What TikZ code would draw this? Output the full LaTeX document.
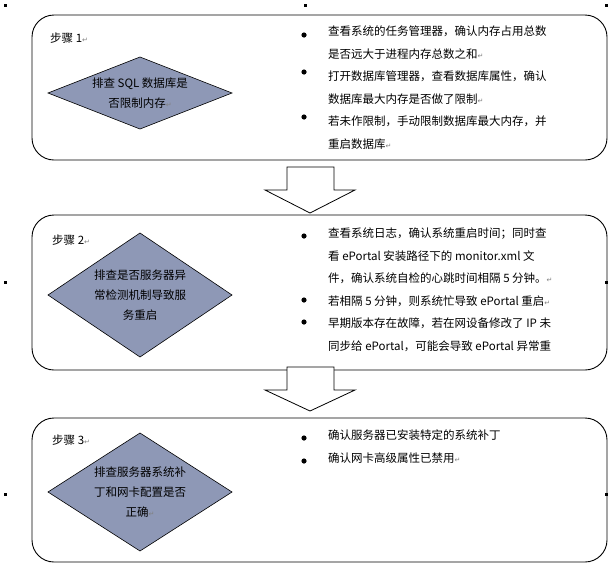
\documentclass[tikz,border=0pt]{standalone}
\usepackage{fontspec}
\setmainfont{Noto Sans CJK SC}
\newfontfamily\dv{DejaVu Sans}
\newcommand{\parmk}{{\dv\color{gray}\fontsize{7}{8}\selectfont ↵}}
\definecolor{dfill}{RGB}{142,152,182}
\begin{document}
\begin{tikzpicture}[x=1pt,y=-1pt,
  box/.style={draw,line width=0.9pt,rounded corners=22pt},
  dia/.style={draw,fill=dfill,line width=0.6pt},
  dt/.style={align=center,font=\fontsize{11.5}{20}\selectfont,inner sep=0pt},
  txt/.style={anchor=north west,align=left,font=\fontsize{11.5}{22.5}\selectfont,inner sep=0pt},
  lab/.style={anchor=west,font=\fontsize{11.5}{14}\selectfont,inner sep=0pt},
  arr/.style={draw,line width=0.8pt,fill=white},
  mk/.style={fill=black,minimum size=3pt,inner sep=0pt}]
\useasboundingbox (0,0) rectangle (612,563);
\foreach \p/\q in {5/5,305/5,606/5,5/282,606/282,5/494,606/494}{\node[mk] at (\p,\q) {};}
% boxes
\draw[box] (32,15) rectangle (607,160);
\draw[box] (32,215) rectangle (607,370);
\draw[box] (32,418) rectangle (607,562);
\node[lab] (s1) at (50,38) {步骤 1\parmk};
\node[lab] (s2) at (52,240) {步骤 2\parmk};
\node[lab] (s3) at (52,440) {步骤 3\parmk};
\draw[dia] (48,93) -- (140,57) -- (232,93) -- (140,129) -- cycle;
\draw[dia] (48,295) -- (140,233) -- (232,295) -- (140,357) -- cycle;
\draw[dia] (48,492) -- (140,433) -- (232,492) -- (140,551) -- cycle;
\node[dt] (d1) at (140,93) {排查 SQL 数据库是\\否限制内存\parmk};
\node[dt] (d2) at (140,295) {排查是否服务器异\\常检测机制导致服\\务重启};
\node[dt] (d3) at (140,492) {排查服务器系统补\\丁和网卡配置是否\\正确\parmk};
% bullets
\foreach \y in {35,72,117,236,300,322,438,461}{\fill (304,\y) circle (2.6pt);}
\node[txt] (t1) at (328,26) {查看系统的任务管理器，确认内存占用总数\\是否远大于进程内存总数之和\parmk\\打开数据库管理器，查看数据库属性，确认\\数据库最大内存是否做了限制\parmk\\若未作限制，手动限制数据库最大内存，并\\重启数据库\parmk};
\node[txt] (t2) at (328,228) {查看系统日志，确认系统重启时间；同时查\\看 ePortal 安装路径下的 monitor.xml 文\\件，确认系统自检的心跳时间相隔 5 分钟。\parmk\\若相隔 5 分钟，则系统忙导致 ePortal 重启\parmk\\早期版本存在故障，若在网设备修改了 IP 未\\同步给 ePortal，可能会导致 ePortal 异常重};
\node[txt] (t3) at (328,430) {确认服务器已安装特定的系统补丁\\确认网卡高级属性已禁用\parmk};
% block arrows
\draw[arr] (287,167) -- (334,167) -- (334,190) -- (355,190) -- (310,213) -- (265,190) -- (287,190) -- cycle;
\draw[arr] (287,367) -- (334,367) -- (334,390) -- (355,390) -- (310,411) -- (265,390) -- (287,390) -- cycle;
\end{tikzpicture}
\end{document}
